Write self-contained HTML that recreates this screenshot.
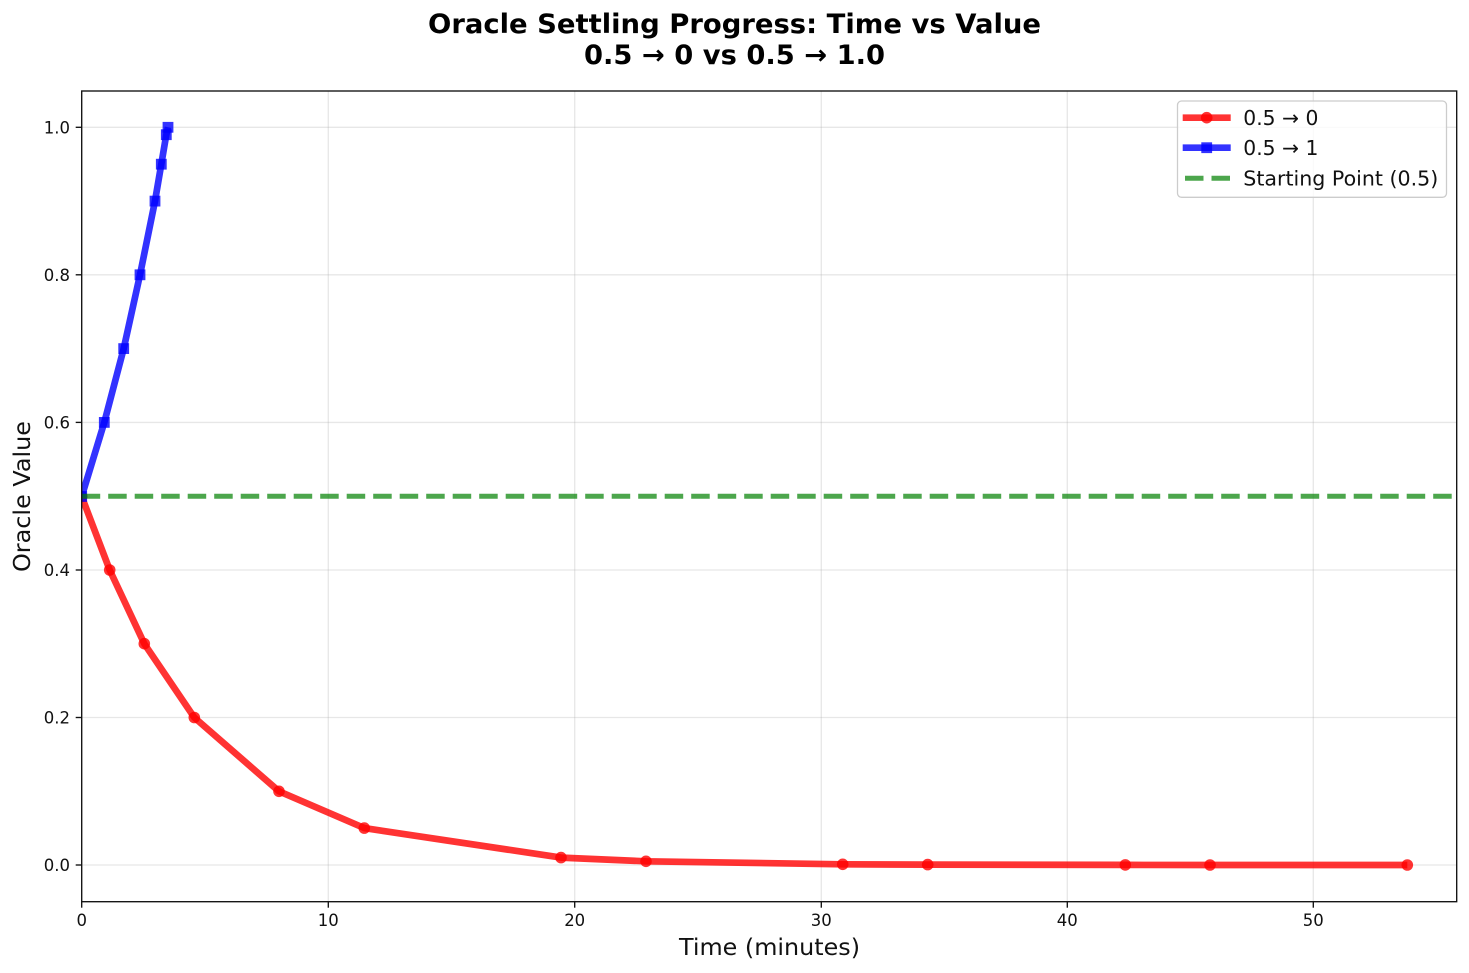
<!DOCTYPE html>
<html>
<head>
<meta charset="utf-8">
<style>
html,body{margin:0;padding:0;background:#fff;}
svg{display:block;}
text{font-family:"DejaVu Sans","Liberation Sans",sans-serif;}
</style>
</head>
<body>
<svg width="1469" height="973" viewBox="0 0 1469 973" xmlns="http://www.w3.org/2000/svg">
<rect x="0" y="0" width="1469" height="973" fill="#fff"/>
<defs>
<clipPath id="ax"><rect x="81.7" y="91" width="1375" height="810.7"/></clipPath>
</defs>
<!-- grid -->
<g stroke="#b0b0b0" stroke-opacity="0.3" stroke-width="1.33">
<line x1="81.7" y1="865" x2="1456.7" y2="865"/>
<line x1="81.7" y1="717.5" x2="1456.7" y2="717.5"/>
<line x1="81.7" y1="570" x2="1456.7" y2="570"/>
<line x1="81.7" y1="422.4" x2="1456.7" y2="422.4"/>
<line x1="81.7" y1="274.8" x2="1456.7" y2="274.8"/>
<line x1="81.7" y1="127.3" x2="1456.7" y2="127.3"/>
<line x1="81.7" y1="91" x2="81.7" y2="901.7"/>
<line x1="328.3" y1="91" x2="328.3" y2="901.7"/>
<line x1="574.7" y1="91" x2="574.7" y2="901.7"/>
<line x1="821.3" y1="91" x2="821.3" y2="901.7"/>
<line x1="1067.3" y1="91" x2="1067.3" y2="901.7"/>
<line x1="1313.3" y1="91" x2="1313.3" y2="901.7"/>
</g>
<g clip-path="url(#ax)">
<!-- red series -->
<polyline fill="none" stroke="#ff0000" stroke-opacity="0.8" stroke-width="6.7" stroke-linejoin="round" stroke-linecap="butt"
points="81.7,496.5 109.7,570 144.3,643.7 194.3,717.5 279,791.3 364.3,828.1 561,857.6 646,861.3 842.7,864.3 927.7,864.6 1125.3,864.9 1210,865 1407.3,865"/>
<g fill="#ff0000" fill-opacity="0.8">
<circle cx="81.7" cy="496.5" r="5.8"/>
<circle cx="109.7" cy="570" r="5.8"/>
<circle cx="144.3" cy="643.7" r="5.8"/>
<circle cx="194.3" cy="717.5" r="5.8"/>
<circle cx="279" cy="791.3" r="5.8"/>
<circle cx="364.3" cy="828.1" r="5.8"/>
<circle cx="561" cy="857.6" r="5.8"/>
<circle cx="646" cy="861.3" r="5.8"/>
<circle cx="842.7" cy="864.3" r="5.8"/>
<circle cx="927.7" cy="864.6" r="5.8"/>
<circle cx="1125.3" cy="864.9" r="5.8"/>
<circle cx="1210" cy="865" r="5.8"/>
<circle cx="1407.3" cy="865" r="5.8"/>
</g>
<!-- blue series -->
<polyline fill="none" stroke="#0000ff" stroke-opacity="0.8" stroke-width="6.7" stroke-linejoin="round"
points="81.7,496.5 104.3,422.4 123.7,348.6 140,274.8 155,201.1 161.3,164.2 166.3,134.7 168,127.3"/>
<g fill="#0000ff" fill-opacity="0.8">
<rect x="76.3" y="491.1" width="10.8" height="10.8"/>
<rect x="98.9" y="417" width="10.8" height="10.8"/>
<rect x="118.3" y="343.2" width="10.8" height="10.8"/>
<rect x="134.6" y="269.4" width="10.8" height="10.8"/>
<rect x="149.6" y="195.7" width="10.8" height="10.8"/>
<rect x="155.9" y="158.8" width="10.8" height="10.8"/>
<rect x="160.9" y="129.3" width="10.8" height="10.8"/>
<rect x="162.6" y="121.9" width="10.8" height="10.8"/>
</g>
<!-- green dashed -->
<line x1="81.7" y1="496.2" x2="1456.7" y2="496.2" stroke="#008000" stroke-opacity="0.7" stroke-width="5" stroke-dasharray="18.5,8"/>
</g>
<!-- spines -->
<rect x="81.7" y="91" width="1375" height="810.7" fill="none" stroke="#111" stroke-width="1.35"/>
<!-- ticks -->
<g stroke="#111" stroke-width="1.35">
<line x1="75.7" y1="865" x2="81.7" y2="865"/>
<line x1="75.7" y1="717.5" x2="81.7" y2="717.5"/>
<line x1="75.7" y1="570" x2="81.7" y2="570"/>
<line x1="75.7" y1="422.4" x2="81.7" y2="422.4"/>
<line x1="75.7" y1="274.8" x2="81.7" y2="274.8"/>
<line x1="75.7" y1="127.3" x2="81.7" y2="127.3"/>
<line x1="81.7" y1="901.7" x2="81.7" y2="907.7"/>
<line x1="328.3" y1="901.7" x2="328.3" y2="907.7"/>
<line x1="574.7" y1="901.7" x2="574.7" y2="907.7"/>
<line x1="821.3" y1="901.7" x2="821.3" y2="907.7"/>
<line x1="1067.3" y1="901.7" x2="1067.3" y2="907.7"/>
<line x1="1313.3" y1="901.7" x2="1313.3" y2="907.7"/>
</g>
<!-- tick labels -->
<g font-size="16.5" fill="#111" text-anchor="end">
<text x="70" y="871">0.0</text>
<text x="70" y="723.5">0.2</text>
<text x="70" y="576">0.4</text>
<text x="70" y="428.4">0.6</text>
<text x="70" y="280.8">0.8</text>
<text x="70" y="133.3">1.0</text>
</g>
<g font-size="16.5" fill="#111" text-anchor="middle">
<text x="81.7" y="926">0</text>
<text x="328.3" y="926">10</text>
<text x="574.7" y="926">20</text>
<text x="821.3" y="926">30</text>
<text x="1067.3" y="926">40</text>
<text x="1313.3" y="926">50</text>
</g>
<!-- axis labels -->
<text x="769.5" y="955" font-size="23.3" text-anchor="middle" fill="#111" textLength="181" lengthAdjust="spacingAndGlyphs">Time (minutes)</text>
<text transform="translate(30,496.5) rotate(-90)" x="0" y="0" font-size="23.3" text-anchor="middle" fill="#111" textLength="151" lengthAdjust="spacingAndGlyphs">Oracle Value</text>
<!-- title -->
<text x="734.5" y="33" font-size="26.7" font-weight="bold" text-anchor="middle" fill="#000" textLength="613" lengthAdjust="spacingAndGlyphs">Oracle Settling Progress: Time vs Value</text>
<text x="734.5" y="64" font-size="26.7" font-weight="bold" text-anchor="middle" fill="#000" textLength="301" lengthAdjust="spacingAndGlyphs">0.5 → 0 vs 0.5 → 1.0</text>
<!-- legend -->
<rect x="1177.5" y="101" width="269" height="96.3" rx="4" ry="4" fill="#fff" fill-opacity="0.8" stroke="#cccccc" stroke-width="1.3"/>
<line x1="1182.7" y1="117.7" x2="1230.7" y2="117.7" stroke="#ff0000" stroke-opacity="0.8" stroke-width="6.7"/>
<circle cx="1206.7" cy="117.7" r="5.8" fill="#ff0000" fill-opacity="0.8"/>
<line x1="1182.7" y1="147.7" x2="1230.7" y2="147.7" stroke="#0000ff" stroke-opacity="0.8" stroke-width="6.7"/>
<rect x="1201.3" y="142.3" width="10.8" height="10.8" fill="#0000ff" fill-opacity="0.8"/>
<line x1="1185" y1="178.3" x2="1231" y2="178.3" stroke="#008000" stroke-opacity="0.7" stroke-width="5" stroke-dasharray="18.5,8"/>
<g font-size="20.3" fill="#111">
<text x="1243.3" y="125">0.5 → 0</text>
<text x="1243.3" y="155">0.5 → 1</text>
<text x="1243.3" y="185.5" textLength="195" lengthAdjust="spacingAndGlyphs">Starting Point (0.5)</text>
</g>
</svg>
</body>
</html>
